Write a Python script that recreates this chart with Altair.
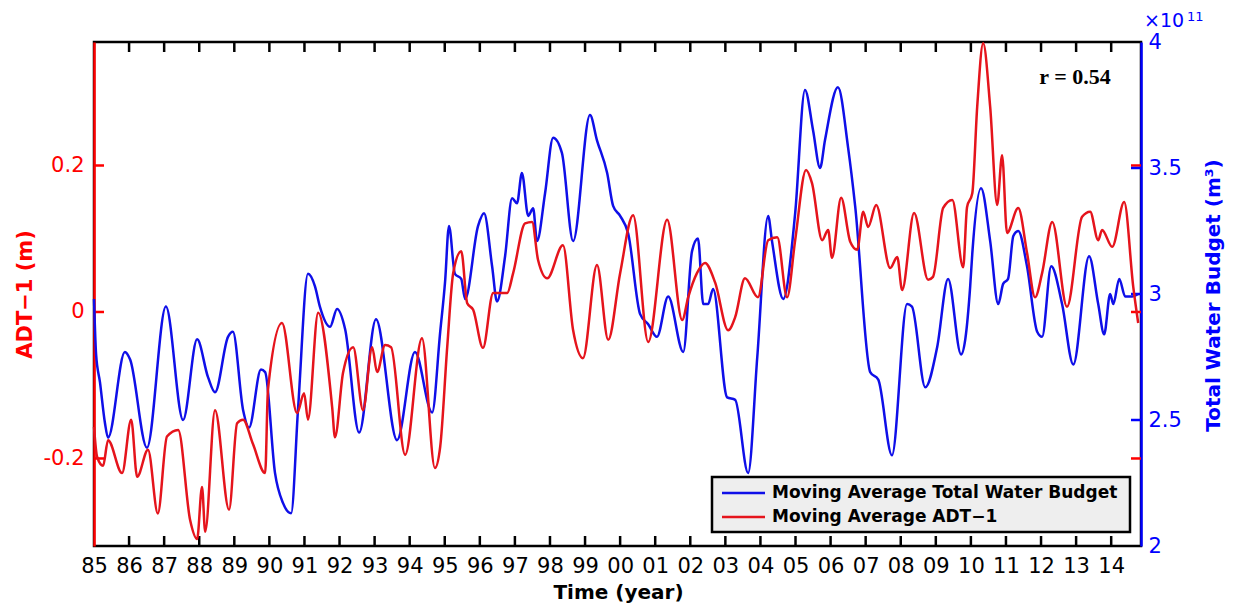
import altair as alt
import pandas as pd

# ---------------- data ----------------
RED_YEAR = [1985.00, 1985.09, 1985.26, 1985.40, 1985.80, 1986.06, 1986.23, 1986.54, 1986.82, 1987.08,
            1987.40, 1987.74, 1987.94, 1988.08, 1988.17, 1988.45, 1988.85, 1989.08, 1989.25, 1989.53,
            1989.88, 1989.96, 1990.36, 1990.79, 1990.99, 1991.10, 1991.39, 1991.79, 1991.87, 1992.10,
            1992.39, 1992.67, 1992.93, 1993.07, 1993.30, 1993.47, 1993.87, 1994.35, 1994.72, 1994.87,
            1995.07, 1995.24, 1995.47, 1995.64, 1995.81, 1996.09, 1996.38, 1996.78, 1996.95, 1997.29,
            1997.49, 1997.66, 1997.92, 1998.37, 1998.66, 1998.94, 1999.34, 1999.66, 2000.00, 2000.37,
            2000.80, 2001.34, 2001.77, 2001.94, 2002.19, 2002.42, 2002.71, 2003.08, 2003.28, 2003.56,
            2003.93, 2004.22, 2004.48, 2004.76, 2004.99, 2005.30, 2005.47, 2005.76, 2005.93, 2006.04,
            2006.30, 2006.56, 2006.76, 2006.93, 2007.07, 2007.30, 2007.70, 2007.90, 2008.04, 2008.38,
            2008.78, 2008.92, 2009.21, 2009.47, 2009.78, 2009.89, 2010.04, 2010.18, 2010.35, 2010.55,
            2010.75, 2010.89, 2011.03, 2011.35, 2011.60, 2011.83, 2012.03, 2012.32, 2012.74, 2013.17,
            2013.40, 2013.63, 2013.74, 2014.03, 2014.37, 2014.63, 2014.77]
RED_ADT = [-0.157, -0.198, -0.210, -0.175, -0.220, -0.147, -0.225, -0.188, -0.275, -0.170,
           -0.161, -0.284, -0.310, -0.239, -0.300, -0.134, -0.270, -0.152, -0.147, -0.180,
           -0.220, -0.106, -0.015, -0.138, -0.111, -0.147, -0.001, -0.130, -0.171, -0.083,
           -0.048, -0.134, -0.048, -0.082, -0.045, -0.048, -0.195, -0.036, -0.213, -0.184,
           -0.048, 0.053, 0.083, 0.012, 0.003, -0.049, 0.026, 0.026, 0.053, 0.121,
           0.123, 0.071, 0.046, 0.091, -0.025, -0.063, 0.064, -0.038, 0.053, 0.132,
           -0.041, 0.126, -0.011, 0.020, 0.053, 0.067, 0.040, -0.025, -0.007, 0.046,
           0.020, 0.098, 0.102, 0.020, 0.098, 0.194, 0.176, 0.098, 0.112, 0.074,
           0.156, 0.096, 0.085, 0.137, 0.116, 0.146, 0.060, 0.075, 0.030, 0.135,
           0.044, 0.048, 0.142, 0.153, 0.061, 0.143, 0.162, 0.280, 0.367, 0.280,
           0.146, 0.214, 0.108, 0.142, 0.081, 0.020, 0.053, 0.123, 0.007, 0.130,
           0.137, 0.098, 0.112, 0.089, 0.150, 0.034, -0.015]

BLUE_YEAR = [1985.00, 1985.06, 1985.17, 1985.31, 1985.40, 1985.88, 1986.03, 1986.51, 1987.05, 1987.54,
             1987.94, 1988.25, 1988.45, 1988.82, 1988.96, 1989.25, 1989.42, 1989.76, 1989.88, 1990.16,
             1990.39, 1990.62, 1990.82, 1991.10, 1991.30, 1991.44, 1991.73, 1991.93, 1992.16, 1992.56,
             1993.04, 1993.64, 1994.15, 1994.64, 1994.87, 1995.01, 1995.12, 1995.29, 1995.47, 1995.58,
             1995.95, 1996.12, 1996.35, 1996.49, 1996.72, 1996.92, 1997.06, 1997.20, 1997.38, 1997.52,
             1997.63, 1997.86, 1998.09, 1998.34, 1998.66, 1999.14, 1999.34, 1999.63, 1999.80, 2000.00,
             2000.23, 2000.57, 2000.80, 2001.05, 2001.37, 2001.80, 2002.05, 2002.22, 2002.37, 2002.51,
             2002.65, 2003.05, 2003.28, 2003.65, 2003.91, 2004.22, 2004.33, 2004.65, 2004.99, 2005.27,
             2005.50, 2005.70, 2005.84, 2006.21, 2006.50, 2006.70, 2007.13, 2007.36, 2007.75, 2008.18,
             2008.32, 2008.70, 2009.04, 2009.35, 2009.72, 2009.84, 2009.98, 2010.04, 2010.29, 2010.55,
             2010.78, 2010.92, 2011.06, 2011.21, 2011.35, 2011.60, 2011.89, 2012.03, 2012.29, 2012.60,
             2012.92, 2013.37, 2013.63, 2013.80, 2013.97, 2014.06, 2014.23, 2014.40, 2014.60, 2014.77]
BLUE_TWB = [2.98, 2.76, 2.65, 2.49, 2.43, 2.77, 2.74, 2.39, 2.95, 2.50,
            2.82, 2.67, 2.61, 2.83, 2.85, 2.54, 2.47, 2.70, 2.69, 2.29,
            2.17, 2.13, 2.55, 3.08, 3.03, 2.95, 2.87, 2.94, 2.86, 2.45,
            2.90, 2.42, 2.77, 2.53, 2.85, 3.05, 3.27, 3.08, 3.06, 2.98,
            3.27, 3.32, 3.11, 2.97, 3.15, 3.38, 3.36, 3.48, 3.31, 3.34,
            3.21, 3.40, 3.62, 3.56, 3.21, 3.71, 3.61, 3.48, 3.35, 3.31,
            3.24, 2.92, 2.88, 2.83, 2.99, 2.77, 3.17, 3.22, 2.96, 2.96,
            3.02, 2.59, 2.58, 2.29, 2.75, 3.31, 3.21, 2.98, 3.32, 3.81,
            3.65, 3.50, 3.61, 3.82, 3.58, 3.35, 2.69, 2.66, 2.36, 2.96,
            2.95, 2.63, 2.79, 3.06, 2.76, 2.82, 3.03, 3.16, 3.42, 3.21,
            2.96, 3.04, 3.06, 3.23, 3.25, 3.11, 2.85, 2.83, 3.11, 2.96,
            2.72, 3.15, 2.96, 2.84, 3.00, 2.96, 3.06, 2.99, 2.99, 3.00]

X_TICKS = list(range(1985, 2015))
X_INNER_TICKS = list(range(1986, 2015))
ADT_TICKS = [-0.2, 0.0, 0.2]
TWB_TICKS = [2.0, 2.5, 3.0, 3.5, 4.0]
TWB_INNER_TICKS = [2.5, 3.0, 3.5]

X_DOMAIN = [1985, 2014.85]
ADT_DOMAIN = [-0.3195, 0.3686]
TWB_DOMAIN = [2, 4]

LEG_TWB = "Moving Average Total Water Budget"
LEG_ADT = "Moving Average ADT\u22121"
R_TEXT = ["r = 0.54"]
EXP_BASE = ["\u00d710"]
EXP_POW = ["11"]

# ---------------- styling ----------------
W, H = 1047, 504
RED_LINE = "#e5141c"
BLUE_LINE = "#0f0fe8"
RED_AX = "#ff0000"
BLUE_AX = "#0000ff"
FONT = "DejaVu Sans"
TICK = 10

x_scale = alt.Scale(domain=X_DOMAIN, nice=False, zero=False)
adt_scale = alt.Scale(domain=ADT_DOMAIN, nice=False, zero=False)
twb_scale = alt.Scale(domain=TWB_DOMAIN, nice=False, zero=False)

red_df = pd.DataFrame({"year": RED_YEAR, "adt": RED_ADT})
blue_df = pd.DataFrame({"year": BLUE_YEAR, "twb": BLUE_TWB})

x_axis = alt.Axis(values=X_TICKS,
                  labelExpr="substring(format(datum.value, 'd'), 2, 4)",
                  title="Time (year)", ticks=False, domain=False, grid=False,
                  labelFlush=False, labelOverlap=False, labelBound=False,
                  labelPadding=9, labelFontSize=21, labelColor="black",
                  titleFontSize=20, titleFontWeight="bold", titleColor="black",
                  titleX=524, titleY=46, titleAlign="center", titleBaseline="middle")


def xenc(field):
    return alt.X(field, scale=x_scale, axis=x_axis)


red_line = alt.Chart(red_df).mark_line(strokeWidth=2.5, interpolate="monotone", color=RED_LINE).encode(
    x=xenc("year:Q"),
    y=alt.Y("adt:Q", scale=adt_scale,
            axis=alt.Axis(orient="left", values=ADT_TICKS,
                          labelExpr="datum.value == 0 ? '0' : replace(format(datum.value, '.1f'), '\u2212', '-')",
                          title="ADT\u22121 (m)", ticks=False, grid=False,
                          domainColor=RED_AX, domainWidth=2.5,
                          labelColor=RED_AX, labelFontSize=21, labelPadding=10,
                          titleColor=RED_AX, titleFontSize=21, titleFontWeight="bold",
                          titleX=-69, titleY=252, titleAngle=270,
                          titleAlign="center", titleBaseline="middle")),
)

blue_line = alt.Chart(blue_df).mark_line(strokeWidth=2.5, interpolate="monotone", color=BLUE_LINE).encode(
    x=xenc("year:Q"),
    y=alt.Y("twb:Q", scale=twb_scale,
            axis=alt.Axis(orient="right", values=TWB_TICKS, format="~g",
                          title="Total Water Budget (m\u00b3)", ticks=False, grid=False,
                          domainColor=BLUE_AX, domainWidth=2.5,
                          labelColor=BLUE_AX, labelFontSize=21, labelPadding=7,
                          titleColor=BLUE_AX, titleFontSize=20, titleFontWeight="bold",
                          titleX=72, titleY=253, titleAngle=270,
                          titleAlign="center", titleBaseline="middle")),
)

xt_df = pd.DataFrame({"year": X_INNER_TICKS})
xt_bottom = alt.Chart(xt_df).mark_rule(color="black", strokeWidth=2.5).encode(
    x=xenc("year:Q"), y=alt.value(H), y2=alt.value(H - TICK))
xt_top = alt.Chart(xt_df).mark_rule(color="black", strokeWidth=2.5).encode(
    x=xenc("year:Q"), y=alt.value(0), y2=alt.value(TICK))

adt_df = pd.DataFrame({"v": ADT_TICKS})
adt_left = alt.Chart(adt_df).mark_rule(color=RED_AX, strokeWidth=2.5).encode(
    y=alt.Y("v:Q", scale=adt_scale, axis=None), x=alt.value(0), x2=alt.value(TICK))
adt_right = alt.Chart(adt_df).mark_rule(color=RED_AX, strokeWidth=2.5).encode(
    y=alt.Y("v:Q", scale=adt_scale, axis=None), x=alt.value(W - TICK), x2=alt.value(W))

twb_df = pd.DataFrame({"v": TWB_INNER_TICKS})
twb_right = alt.Chart(twb_df).mark_rule(color=BLUE_AX, strokeWidth=2.5).encode(
    y=alt.Y("v:Q", scale=twb_scale, axis=None), x=alt.value(W - TICK), x2=alt.value(W))

r_text = alt.Chart(pd.DataFrame({"t": R_TEXT})).mark_text(
    font="Liberation Serif", fontWeight="bold", fontSize=22, align="center",
    baseline="middle", color="black").encode(text="t:N", x=alt.value(981), y=alt.value(35))

exp_base = alt.Chart(pd.DataFrame({"t": EXP_BASE})).mark_text(
    font=FONT, fontSize=19, align="left", baseline="alphabetic", color=BLUE_AX).encode(
    text="t:N", x=alt.value(1050), y=alt.value(-15))
exp_pow = alt.Chart(pd.DataFrame({"t": EXP_POW})).mark_text(
    font=FONT, fontSize=13, align="left", baseline="alphabetic", color=BLUE_AX).encode(
    text="t:N", x=alt.value(1093), y=alt.value(-21))

# ---------------- legend box (bottom right, inside the axes) ----------------
LX0, LX1, LY0, LY1 = 618, 1036, 435, 490
ROW1, ROW2 = 451, 475
leg_box = alt.Chart(pd.DataFrame({"k": [0]})).mark_rect(
    fill="#eeeeee", stroke="black", strokeWidth=2.5).encode(
    x=alt.value(LX0), x2=alt.value(LX1), y=alt.value(LY0), y2=alt.value(LY1))
leg_sym1 = alt.Chart(pd.DataFrame({"k": [0]})).mark_rule(color=BLUE_LINE, strokeWidth=2.5).encode(
    x=alt.value(628), x2=alt.value(671), y=alt.value(ROW1))
leg_sym2 = alt.Chart(pd.DataFrame({"k": [0]})).mark_rule(color=RED_LINE, strokeWidth=2.5).encode(
    x=alt.value(628), x2=alt.value(671), y=alt.value(ROW2))
leg_txt1 = alt.Chart(pd.DataFrame({"t": [LEG_TWB]})).mark_text(
    font=FONT, fontWeight="bold", fontSize=17, align="left", baseline="middle", color="black").encode(
    text="t:N", x=alt.value(678), y=alt.value(ROW1))
leg_txt2 = alt.Chart(pd.DataFrame({"t": [LEG_ADT]})).mark_text(
    font=FONT, fontWeight="bold", fontSize=17, align="left", baseline="middle", color="black").encode(
    text="t:N", x=alt.value(678), y=alt.value(ROW2))

chart = alt.layer(
    xt_bottom, xt_top, adt_left, adt_right, twb_right,
    blue_line, red_line, r_text, exp_base, exp_pow,
    leg_box, leg_sym1, leg_sym2, leg_txt1, leg_txt2,
).resolve_scale(y="independent").properties(
    width=W, height=H,
    padding={"left": 86, "top": 34, "right": 84, "bottom": 59},
    autosize=alt.AutoSizeParams(type="none"),
    background="white",
).configure_view(
    stroke="black", strokeWidth=2.5
).configure_axis(
    labelFont=FONT, titleFont=FONT
)

chart.save("out.html", embed_options={"renderer": "svg", "actions": False})
